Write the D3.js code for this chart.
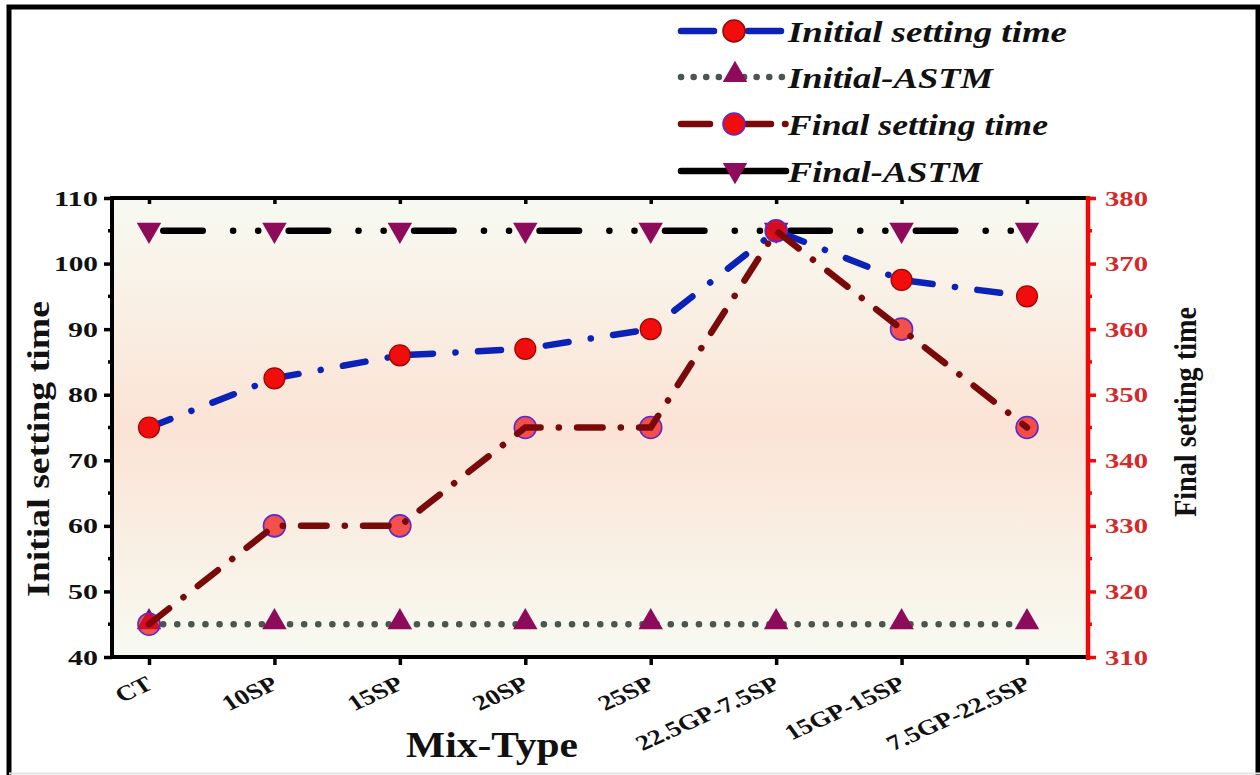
<!DOCTYPE html>
<html>
<head>
<meta charset="utf-8">
<script src="https://cdn.jsdelivr.net/npm/d3@7"></script>
<style>
  html, body { margin: 0; padding: 0; background: #ffffff; }
  svg { display: block; }
  text { font-family: "Liberation Serif", "Times New Roman", serif; font-weight: bold; }
</style>
</head>
<body>
<svg id="chart" width="1260" height="775"></svg>
<script>
// Mix types along the x axis
const categories = ["CT", "10SP", "15SP", "20SP", "25SP", "22.5GP-7.5SP", "15GP-15SP", "7.5GP-22.5SP"];
// Setting times (left axis: initial, right axis: final)
const initialSetting = [75, 82.5, 86, 87, 90, 105, 97.5, 95];
const finalSetting = [315, 330, 330, 345, 345, 375, 360, 345];
// ASTM limits
const initialASTM = [45, 45, 45, 45, 45, 45, 45, 45];
const finalASTM = [375, 375, 375, 375, 375, 375, 375, 375];
// Axis ticks
const leftTicks = [40, 50, 60, 70, 80, 90, 100, 110];
const rightTicks = [310, 320, 330, 340, 350, 360, 370, 380];
const leftMinor = [45, 55, 65, 75, 85, 95, 105];
const rightMinor = [315, 325, 335, 345, 355, 365, 375];

const svg = d3.select("#chart");
const plot = { left: 112, right: 1088, top: 198, bottom: 657 };
const stretch = 1.27; // horizontal widening applied to the lettering

const x = d3.scalePoint().domain(categories).range([149, 1027]);
const yL = d3.scaleLinear().domain([40, 110]).range([plot.bottom, plot.top]);
const yR = d3.scaleLinear().domain([310, 380]).range([plot.bottom, plot.top]);

// outer frame (open at the bottom)
svg.append("path")
  .attr("d", "M9,775 V7 H1258 V775")
  .attr("fill", "none").attr("stroke", "#000").attr("stroke-width", 5);
svg.append("line").attr("x1", 9).attr("x2", 1260).attr("y1", 773.5).attr("y2", 773.5)
  .attr("stroke", "#e4e4e4").attr("stroke-width", 2);

// plot background gradient
const defs = svg.append("defs");
const grad = defs.append("linearGradient").attr("id", "bg").attr("x1", 0).attr("x2", 0).attr("y1", 0).attr("y2", 1);
grad.append("stop").attr("offset", "0%").attr("stop-color", "#f7faf2");
grad.append("stop").attr("offset", "50%").attr("stop-color", "#fbe3d5");
grad.append("stop").attr("offset", "100%").attr("stop-color", "#f7faf1");
svg.append("rect")
  .attr("x", plot.left).attr("y", plot.top)
  .attr("width", plot.right - plot.left).attr("height", plot.bottom - plot.top)
  .attr("fill", "url(#bg)");

function fitText(sel, len) {
  sel.attr("textLength", len).attr("lengthAdjust", "spacingAndGlyphs");
}

// ---- axes ----
// left axis
const gL = svg.append("g").attr("transform", `translate(${plot.left},0)`);
gL.call(d3.axisLeft(yL).tickValues(leftTicks).tickSize(8).tickPadding(6).tickFormat(d3.format("d")));
gL.select(".domain").remove();
gL.selectAll(".tick line").attr("stroke", "#000").attr("stroke-width", 3.5);
gL.selectAll(".tick text").attr("fill", "#111").style("font-size", "22px")
  .each(function(d) { fitText(d3.select(this), String(d).length === 3 ? 44 : 30); });
gL.selectAll(".minor").data(leftMinor).join("line").attr("class", "minor")
  .attr("x1", -4).attr("x2", 0).attr("y1", d => yL(d)).attr("y2", d => yL(d))
  .attr("stroke", "#000").attr("stroke-width", 3.5);

// right axis (red)
const gR = svg.append("g").attr("transform", `translate(${plot.right},0)`);
gR.call(d3.axisRight(yR).tickValues(rightTicks).tickSize(8).tickPadding(9).tickFormat(d3.format("d")));
gR.select(".domain").remove();
gR.selectAll(".tick line").attr("stroke", "#ee0a0a").attr("stroke-width", 3.5);
gR.selectAll(".tick text").attr("fill", "#d42a2a").style("font-size", "22px")
  .each(function() { fitText(d3.select(this), 43); });
gR.selectAll(".minor").data(rightMinor).join("line").attr("class", "minor")
  .attr("x1", 0).attr("x2", 4).attr("y1", d => yR(d)).attr("y2", d => yR(d))
  .attr("stroke", "#ee0a0a").attr("stroke-width", 3.5);

// bottom axis with slanted category names
const gB = svg.append("g").attr("transform", `translate(0,${plot.bottom})`);
gB.call(d3.axisBottom(x).tickSize(8).tickPadding(6));
gB.select(".domain").remove();
gB.selectAll(".tick line").attr("stroke", "#000").attr("stroke-width", 3.5);
gB.selectAll(".tick text").attr("fill", "#111").style("font-size", "21.5px")
  .attr("text-anchor", "end").attr("dy", "0").attr("y", 0)
  .attr("transform", `translate(5,31) scale(${stretch},1) rotate(-30)`);

// top axis ticks pointing inward
const gT = svg.append("g").attr("transform", `translate(0,${plot.top})`);
gT.call(d3.axisBottom(x).tickSize(6).tickFormat(""));
gT.select(".domain").remove();
gT.selectAll(".tick line").attr("stroke", "#000").attr("stroke-width", 3.5);

// frame lines of the plot
svg.append("line").attr("x1", plot.left - 2).attr("x2", plot.right).attr("y1", plot.top).attr("y2", plot.top)
  .attr("stroke", "#000").attr("stroke-width", 4);
svg.append("line").attr("x1", plot.left - 2).attr("x2", plot.right).attr("y1", plot.bottom).attr("y2", plot.bottom)
  .attr("stroke", "#000").attr("stroke-width", 4);
svg.append("line").attr("x1", plot.left).attr("x2", plot.left).attr("y1", plot.top - 2).attr("y2", plot.bottom + 2)
  .attr("stroke", "#000").attr("stroke-width", 4);
svg.append("line").attr("x1", plot.right).attr("x2", plot.right).attr("y1", plot.top - 2).attr("y2", plot.bottom + 3)
  .attr("stroke", "#ee0a0a").attr("stroke-width", 4.5);

// axis titles
svg.append("text").attr("x", 492).attr("y", 757).attr("text-anchor", "middle")
  .style("font-size", "35px").attr("fill", "#111").text("Mix-Type")
  .call(fitText, 172);
svg.append("text").attr("transform", `translate(49,449) scale(1.3,1) rotate(-90)`).attr("text-anchor", "middle")
  .style("font-size", "25px").attr("fill", "#111").text("Initial setting time")
  .call(fitText, 296);
svg.append("text").attr("transform", `translate(1196,412) scale(1.3,1) rotate(-90)`).attr("text-anchor", "middle")
  .style("font-size", "25px").attr("fill", "#111").text("Final setting time")
  .call(fitText, 210);

// ---- series ----
// the black limit line repeats its dash pattern once per category step
const step = x.step();
const styles = {
  initial: { color: "#0b22b6", dash: "23 22.5 0.1 22.5", width: 6.5 },
  initialASTM: { color: "#4c5651", dash: "0.1 14", width: 6.5 },
  final: { color: "#7a0909", dash: "25.5 18.2 0.1 18.2", width: 6.5 },
  finalASTM: { color: "#000000", dash: `39.5 30.3 0.1 25 0.1 ${step - 95}`, offset: step - 14.25, width: 6.5 }
};
const markerPurple = "#8e0b5c";
const tri = d3.symbol().type(d3.symbolTriangle).size(260);

function drawLine(values, scale, st) {
  const line = d3.line().x((d, i) => x(categories[i])).y(d => scale(d));
  svg.append("path").datum(values).attr("d", line)
    .attr("fill", "none").attr("stroke", st.color).attr("stroke-width", st.width)
    .attr("stroke-dasharray", st.dash).attr("stroke-dashoffset", st.offset || 0)
    .attr("stroke-linecap", "round");
}

// Final-ASTM line
drawLine(finalASTM, yR, styles.finalASTM);

// Initial-ASTM
drawLine(initialASTM, yL, styles.initialASTM);
svg.append("g").selectAll("path").data(initialASTM).join("path")
  .attr("d", tri).attr("fill", markerPurple)
  .attr("transform", (d, i) => `translate(${x(categories[i])},${yL(d) - 2})`);

// Initial setting time
drawLine(initialSetting, yL, styles.initial);
svg.append("g").selectAll("circle").data(initialSetting).join("circle")
  .attr("cx", (d, i) => x(categories[i])).attr("cy", d => yL(d)).attr("r", 10.5)
  .attr("fill", "#f20d0d").attr("stroke", "#9a0606").attr("stroke-width", 1.2);

// Final-ASTM markers
svg.append("g").selectAll("path").data(finalASTM).join("path")
  .attr("d", tri).attr("fill", markerPurple)
  .attr("transform", (d, i) => `translate(${x(categories[i])},${yR(d) - 1}) rotate(180)`);

// Final setting time
svg.append("g").selectAll("circle").data(finalSetting).join("circle")
  .attr("cx", (d, i) => x(categories[i])).attr("cy", d => yR(d)).attr("r", 11)
  .attr("fill", "#f20d0d").attr("fill-opacity", 0.7)
  .attr("stroke", "#5a2ccc").attr("stroke-width", 1.6);
drawLine(finalSetting, yR, styles.final);

// ---- legend ----
const legendItems = [
  { label: "Initial setting time", color: "#0b22b6", segs: [[681, 714], [748, 781]], marker: "circle", fill: "#f20d0d", stroke: "#9a0606", y: 31, len: 279 },
  { label: "Initial-ASTM", color: "#4c5651", dash: "0.1 12.5", segs: [[681, 786]], marker: "up", y: 77, len: 205 },
  { label: "Final setting time", color: "#7a0909", segs: [[681, 710], [746, 771], [785, 785.5]], marker: "circle", fill: "#f20d0d", stroke: "#5a2ccc", y: 124, len: 260 },
  { label: "Final-ASTM", color: "#000", segs: [[681, 786]], marker: "down", y: 171, len: 194 }
];
const lg = svg.append("g");
legendItems.forEach(item => {
  const g = lg.append("g").attr("transform", `translate(0,${item.y})`);
  item.segs.forEach(s => {
    const ln = g.append("line").attr("x1", s[0]).attr("x2", s[1]).attr("y1", 0).attr("y2", 0)
      .attr("stroke", item.color).attr("stroke-width", 6.5).attr("stroke-linecap", "round");
    if (item.dash) ln.attr("stroke-dasharray", item.dash);
  });
  if (item.marker === "circle") {
    g.append("circle").attr("cx", 734).attr("cy", 0).attr("r", 11)
      .attr("fill", item.fill).attr("stroke", item.stroke).attr("stroke-width", 1.6);
  } else {
    g.append("path").attr("d", tri).attr("fill", markerPurple)
      .attr("transform", item.marker === "up" ? "translate(735,-2)" : "translate(735,-1) rotate(180)");
  }
  g.append("text").attr("x", 788).attr("y", 11).style("font-size", "30px").style("font-style", "italic")
    .attr("fill", "#111").text(item.label).call(fitText, item.len);
});
</script>
</body>
</html>
